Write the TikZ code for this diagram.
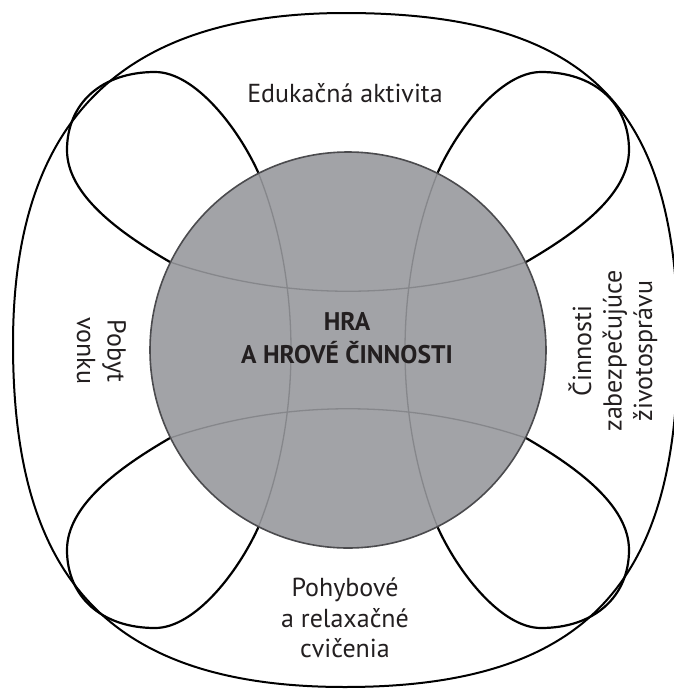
\documentclass[tikz,border=0pt]{standalone}
\usepackage{fontspec}
\setmainfont{PT Sans}
\definecolor{discfill}{RGB}{162,163,167}
\definecolor{discedge}{RGB}{75,75,78}
\definecolor{gridline}{RGB}{134,135,139}
\definecolor{inktext}{RGB}{35,31,32}
\def\leafcurve{(170,262) .. controls (120,233) and (67,195) .. (67,150)
 .. controls (67,103) and (102,72) .. (155,72)
 .. controls (195,72) and (238,128) .. (258,172)
 .. controls (302,281) and (302,419) .. (258,528)
 .. controls (238,572) and (195,628) .. (155,628)
 .. controls (102,628) and (67,597) .. (67,550)
 .. controls (67,505) and (120,467) .. (170,438)
 .. controls (286,399) and (410,399) .. (526,438)
 .. controls (576,467) and (629,505) .. (629,550)
 .. controls (629,597) and (594,628) .. (541,628)
 .. controls (501,628) and (458,572) .. (438,528)
 .. controls (394,419) and (394,281) .. (438,172)
 .. controls (458,128) and (501,72) .. (541,72)
 .. controls (594,72) and (629,103) .. (629,150)
 .. controls (629,195) and (576,233) .. (526,262)
 .. controls (410,301) and (286,301) .. (170,262) -- cycle}
\def\outercurve{(345,13) .. controls (595,13) and (678,114) .. (678,344)
 .. controls (678,574) and (595,687) .. (345,687)
 .. controls (100,687) and (13,569) .. (13,344)
 .. controls (13,129) and (113,13) .. (345,13) -- cycle}
\def\disc{(348,350) circle[radius=198pt]}
\begin{document}
\begin{tikzpicture}[x=1pt,y=-1pt,
  outerline/.style={line width=2pt, black},
  leafline/.style={line width=2.2pt, black, line join=round},
  gridstroke/.style={line width=1.3pt, gridline},
  textlabel/.style={text=inktext, font=\fontsize{26}{30.5}\selectfont, align=center, inner sep=0pt},
  corelabel/.style={text=inktext, font=\bfseries\fontsize{25.5}{33}\selectfont, align=center, inner sep=0pt}]
\clip (0,0) rectangle (674,689);
\fill[white] (0,0) rectangle (674,689);
\draw[outerline] \outercurve;
\draw[leafline] \leafcurve;
\fill[discfill] \disc;
\begin{scope}
 \clip \disc;
 \draw[gridstroke] \leafcurve;
\end{scope}
\draw[discedge, line width=1.6pt] \disc;
\node[textlabel, anchor=base] (edu) at (345,102) {Edukačná aktivita};
\node[corelabel] (core) at (347,338) {HRA\\A HROVÉ ČINNOSTI};
\node[textlabel, rotate=90] (life) at (613,351) {Činnosti\\zabezpečujúce\\životosprávu};
\node[textlabel, rotate=-90] (outdoor) at (101.5,351) {Pobyt\\vonku};
\node[textlabel] (move) at (345,618) {Pohybové\\a relaxačné\\cvičenia};
\end{tikzpicture}
\end{document}
